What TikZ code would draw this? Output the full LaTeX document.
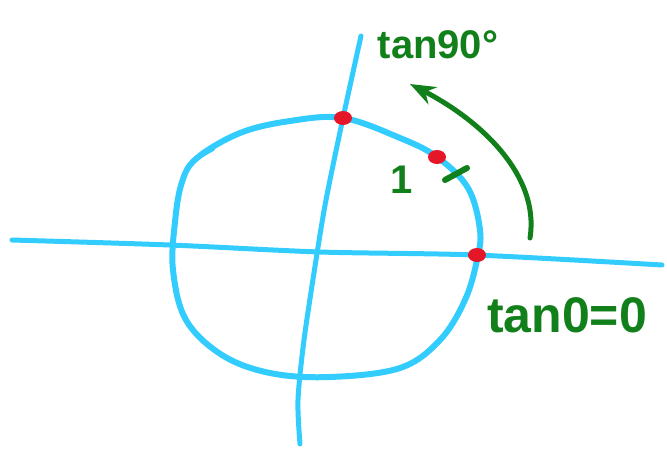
\documentclass[tikz,border=0pt]{standalone}
\usepackage{fontspec}
\setmainfont{Liberation Sans}
\usetikzlibrary{arrows.meta,positioning,shapes.geometric}
\definecolor{skyline}{RGB}{51,204,255}
\definecolor{penred}{RGB}{228,22,40}
\definecolor{pengreen}{RGB}{18,128,26}
\begin{document}
\begin{tikzpicture}[
  x=1pt, y=-1pt, >=Stealth,
  axis/.style={draw=skyline, line width=5pt, line cap=round, line join=round},
  dot/.style={ellipse, fill=penred, minimum width=18pt, minimum height=14pt, inner sep=0pt},
  note/.style={text=pengreen, inner sep=0pt},
  arr/.style={->, draw=pengreen, line width=5pt, line cap=round}
]
\useasboundingbox (0,0) rectangle (667,450);

% axes and circle
\draw[axis] plot[smooth] coordinates {(12,240) (170,245) (320,252) (475,255) (662,265)};
\draw[axis] plot[smooth] coordinates {(361,36) (343,118) (326,200) (316,260) (304,340) (298,400) (300,444)};
\draw[axis, line width=6pt] plot[smooth cycle, tension=0.6] coordinates {
  (240,133) (290,121) (343,118) (400,138) (437,157) (468,188) (480,230) (477,260)
  (465,300) (440,340) (400,368) (330,377) (270,373) (222,355) (186,320) (173,270)
  (175,222) (182,182) (197,158)};
\draw[axis, line width=4pt] (197,158) -- (213,149);

% points
\node[dot] (d90) at (343,118) {};
\node[dot] (d45) at (437,157) {};
\node[dot] (d0) at (477,255) {};

% labels
\node[note, font=\bfseries\fontsize{40}{40}\selectfont] (t90) at (438,45) {tan90°};
\node[note, font=\bfseries\fontsize{40}{40}\selectfont] (one) at (402,180) {1};
\node[note, font=\bfseries\fontsize{50}{50}\selectfont] (t0) at (567,315) {tan0=0};
\draw[draw=pengreen, line width=6pt, line cap=round] (445,180) -- (467,168);

% rotation arrow
\coordinate (tail) at (530,238);
\coordinate (tip) at (410,84);
\draw[arr] (tail) .. controls (540,175) and (480,120) .. (tip);
\end{tikzpicture}
\end{document}
